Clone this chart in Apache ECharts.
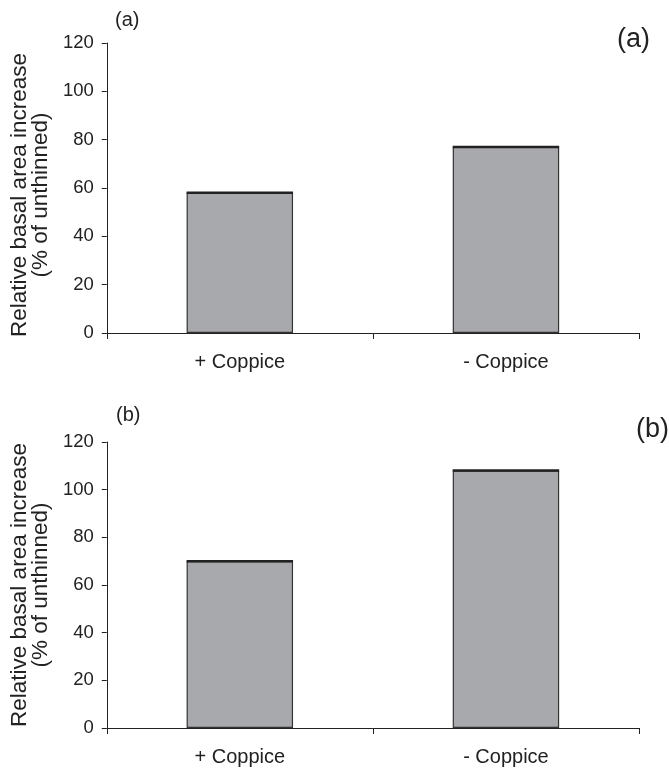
<!DOCTYPE html>
<html>
<head>
<meta charset="utf-8">
<script src="https://cdn.jsdelivr.net/npm/echarts@6/dist/echarts.min.js"></script>
<style>
html,body{margin:0;padding:0;background:#fff;}
#chart{width:669px;height:774px;}
</style>
</head>
<body>
<div id="chart"></div>
<script>
const categories = ['+ Coppice', '- Coppice'];
const valuesA = [58, 77];
const valuesB = [70, 108];
const yTicks = [0, 20, 40, 60, 80, 100, 120];
const yAxisTitle = 'Relative basal area increase\n(% of unthinned)';
const panelLabels = ['(a)', '(b)'];

const FONT = 'Arial, "Liberation Sans", Helvetica, sans-serif';
const chart = echarts.init(document.getElementById('chart'));

function topLine() {
  return function (params, api) {
    const x = api.value(0), v = api.value(1);
    const p = api.coord([x, v]);
    const w = api.size([1, 0])[0] * 0.4;
    return {
      type: 'line',
      shape: { x1: p[0] - w / 2, y1: p[1], x2: p[0] + w / 2, y2: p[1] },
      style: { stroke: '#222', lineWidth: 2.5 }
    };
  };
}

function xAxisDef(gi) {
  return {
    type: 'category', gridIndex: gi, data: categories,
    axisLine: { lineStyle: { color: '#222', width: 1 } },
    axisTick: { show: true, length: 6, lineStyle: { color: '#222' } },
    axisLabel: { fontSize: 20, color: '#222', margin: 19, fontFamily: FONT }
  };
}
function yAxisDef(gi, pad) {
  return {
    type: 'value', gridIndex: gi, min: yTicks[0], max: yTicks[yTicks.length - 1], interval: 20,
    name: yAxisTitle, nameLocation: 'middle', nameGap: 55, nameRotate: 90,
    nameTextStyle: { fontSize: 22.5, color: '#222', fontFamily: FONT, lineHeight: 21, padding: pad },
    axisLine: { show: true, lineStyle: { color: '#222', width: 1 } },
    axisTick: { show: true, length: 5, lineStyle: { color: '#222' } },
    splitLine: { show: false },
    axisLabel: { fontSize: 18.5, color: '#222', margin: 13, fontFamily: FONT }
  };
}

const option = {
  backgroundColor: '#fff',
  animation: false,
  grid: [
    { left: 106, top: 43, width: 533, height: 290 },
    { left: 106, top: 442, width: 533, height: 286 }
  ],
  xAxis: [xAxisDef(0), xAxisDef(1)],
  yAxis: [yAxisDef(0, [0, 14, 0, 0]), yAxisDef(1, [0, 0, 0, 0])],
  graphic: [
    { type: 'text', left: 115, top: 10, style: { text: panelLabels[0], fontSize: 20, fill: '#222', fontFamily: FONT } },
    { type: 'text', left: 617, top: 26, style: { text: panelLabels[0], fontSize: 27, fill: '#222', fontFamily: FONT } },
    { type: 'text', left: 116, top: 405, style: { text: panelLabels[1], fontSize: 20, fill: '#222', fontFamily: FONT } },
    { type: 'text', left: 636, top: 416, style: { text: panelLabels[1], fontSize: 27, fill: '#222', fontFamily: FONT } }
  ],
  series: [
    { type: 'bar', xAxisIndex: 0, yAxisIndex: 0, data: valuesA, barWidth: '40%',
      itemStyle: { color: '#a8a9ac', borderColor: '#333', borderWidth: 1.2 } },
    { type: 'bar', xAxisIndex: 1, yAxisIndex: 1, data: valuesB, barWidth: '40%',
      itemStyle: { color: '#a8a9ac', borderColor: '#333', borderWidth: 1.2 } },
    { type: 'custom', xAxisIndex: 0, yAxisIndex: 0, renderItem: topLine(),
      data: valuesA.map((v, i) => [i, v]), encode: { x: 0, y: 1 }, z: 5 },
    { type: 'custom', xAxisIndex: 1, yAxisIndex: 1, renderItem: topLine(),
      data: valuesB.map((v, i) => [i, v]), encode: { x: 0, y: 1 }, z: 5 }
  ]
};
chart.setOption(option);
</script>
</body>
</html>
